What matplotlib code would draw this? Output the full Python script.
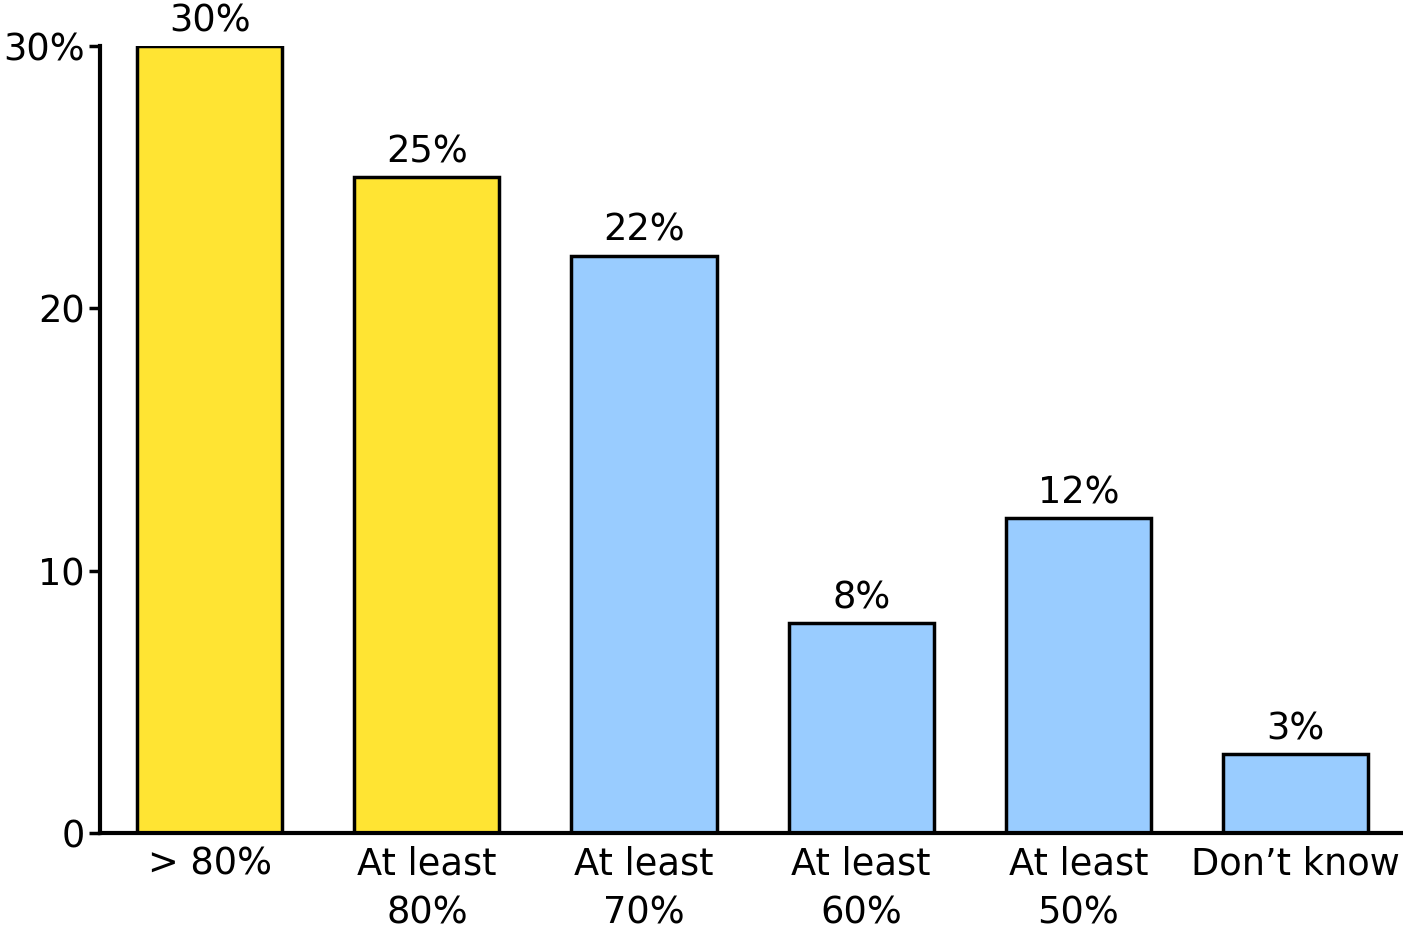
import numpy as np
import matplotlib
matplotlib.use("Agg")
from matplotlib import pyplot as plt

plt.rcParams['font.family'] = ['DejaVu Sans']

categories = ["> 80%", "At least\n80%", "At least\n70%", "At least\n60%",
              "At least\n50%", "Don\u2019t know"]
values = [30, 25, 22, 8, 12, 3]
colors = ["#FFE433", "#FFE433", "#99CCFF", "#99CCFF", "#99CCFF", "#99CCFF"]
ytick_vals = [0, 10, 20, 30]
ytick_labels = ["0", "10", "20", "30%"]


def main():
    fig = plt.figure(figsize=(14.03, 9.30), dpi=100)
    ax = fig.add_axes([100 / 1403, 97 / 930, 1303 / 1403, 787 / 930])
    x = np.arange(len(categories))
    ax.bar(x, values, width=0.668, color=colors, edgecolor="black",
           linewidth=2.5, zorder=2)
    for xi, v in zip(x, values):
        ax.annotate("{}%".format(v), (xi, v), xytext=(0, 5),
                    textcoords="offset points", ha="center", va="bottom",
                    fontsize=26.5)
    ax.set_xlim(-0.505, 5.495)
    ax.set_ylim(0, 30)
    ax.set_xticks(x)
    ax.set_xticklabels(categories, fontsize=26.5, linespacing=1.4)
    ax.set_yticks(ytick_vals)
    ax.set_yticklabels(ytick_labels, fontsize=26.5)
    ax.tick_params(axis="x", length=0, pad=9)
    ax.tick_params(axis="y", length=8, width=2.5, pad=3)
    for s in ["top", "right"]:
        ax.spines[s].set_visible(False)
    for s in ["left", "bottom"]:
        ax.spines[s].set_linewidth(3)
    ax.spines["bottom"].set_zorder(3)
    fig.savefig("out.png", dpi=100)


if __name__ == "__main__":
    main()
